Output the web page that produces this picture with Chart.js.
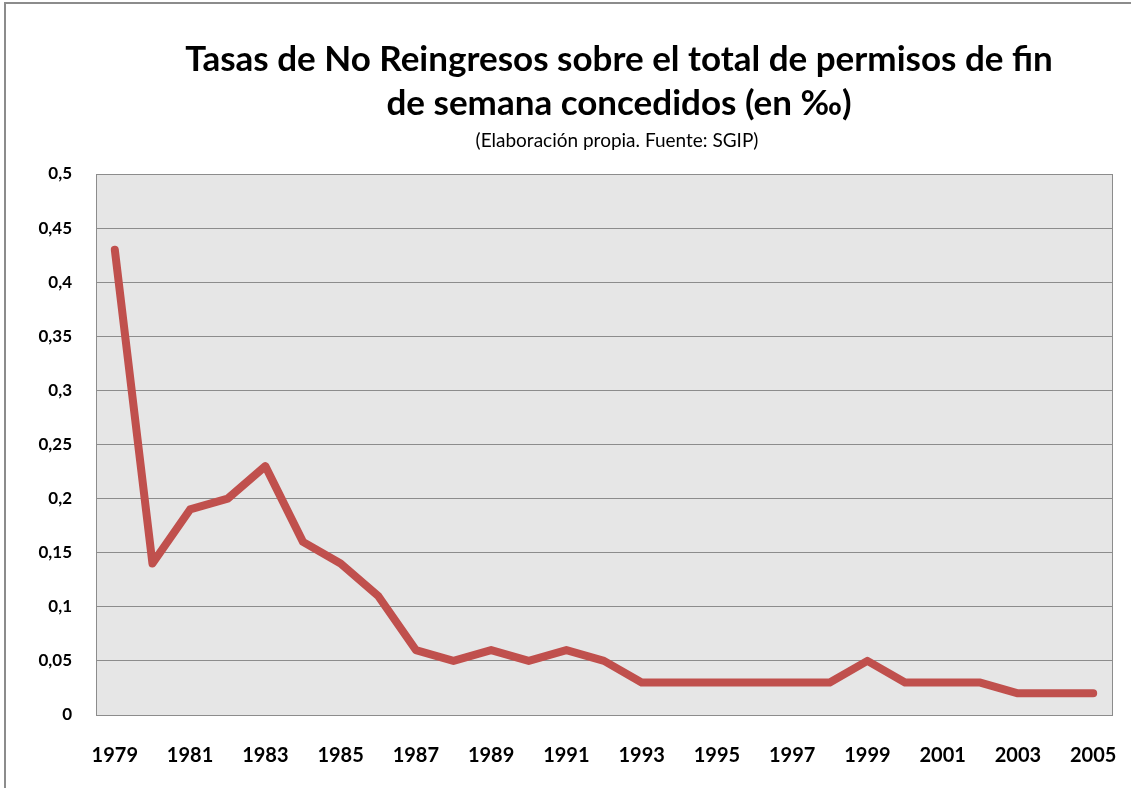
<!DOCTYPE html>
<html>
<head>
<meta charset="utf-8">
<script src="https://cdn.jsdelivr.net/npm/chart.js@4/dist/chart.umd.min.js"></script>
<style>
    html, body { margin: 0; padding: 0; background: #fff; }
    #chartContainer { position: absolute; left: 0; top: 0; }
</style>
</head>
<body>
<canvas id="chartContainer" width="1131" height="788"></canvas>
<script>
// Chart data
const years = ['1979', '1980', '1981', '1982', '1983', '1984', '1985', '1986', '1987', '1988',
    '1989', '1990', '1991', '1992', '1993', '1994', '1995', '1996', '1997', '1998',
    '1999', '2000', '2001', '2002', '2003', '2004', '2005'];
const rates = [0.43, 0.14, 0.19, 0.20, 0.23, 0.16, 0.14, 0.11, 0.06, 0.05,
    0.06, 0.05, 0.06, 0.05, 0.03, 0.03, 0.03, 0.03, 0.03, 0.03,
    0.05, 0.03, 0.03, 0.03, 0.02, 0.02, 0.02];
const titleLines = ['Tasas de No Reingresos sobre el total de permisos de fin', 'de semana concedidos (en ‰)'];
const subtitleText = '(Elaboración propia. Fuente: SGIP)';

const FONT = 'Lato, "Open Sans", sans-serif';

// Plot background, borders and header text
const frame = {
    id: 'frame',
    beforeDraw(chart) {
        const ctx = chart.ctx;
        const a = chart.chartArea;
        ctx.save();
        ctx.fillStyle = '#fff';
        ctx.fillRect(0, 0, chart.width, chart.height);
        ctx.fillStyle = '#e6e6e6';
        ctx.fillRect(a.left, a.top, a.right - a.left, a.bottom - a.top);
        // outer chart border (only left/top visible in the original)
        ctx.strokeStyle = '#8c8c8c';
        ctx.lineWidth = 2;
        ctx.beginPath();
        ctx.moveTo(5, chart.height + 5);
        ctx.lineTo(5, 3);
        ctx.lineTo(chart.width + 5, 3);
        ctx.stroke();
        ctx.restore();
    },
    afterDatasetsDraw(chart) {
        const ctx = chart.ctx;
        const a = chart.chartArea;
        ctx.save();
        ctx.strokeStyle = '#8c8c8c';
        ctx.lineWidth = 1;
        ctx.strokeRect(Math.round(a.left) + 0.5, Math.round(a.top) + 0.5,
            Math.round(a.right - a.left), Math.round(a.bottom - a.top));
        ctx.restore();
    },
    afterDraw(chart) {
        const ctx = chart.ctx;
        ctx.save();
        ctx.fillStyle = '#000';
        ctx.textAlign = 'center';
        ctx.textBaseline = 'middle';
        ctx.font = 'bold 35px ' + FONT;
        ctx.fillText(titleLines[0], 619, 60);
        ctx.fillText(titleLines[1], 619, 104);
        ctx.font = '19px ' + FONT;
        ctx.fillText(subtitleText, 617, 141);
        ctx.restore();
    }
};

document.addEventListener('DOMContentLoaded', function () {
    const ctx = document.getElementById('chartContainer').getContext('2d');
    new Chart(ctx, {
        type: 'line',
        data: {
            labels: years,
            datasets: [{
                data: rates,
                borderColor: '#c0504d',
                borderWidth: 8,
                borderCapStyle: 'round',
                borderJoinStyle: 'round',
                pointRadius: 0,
                tension: 0,
                fill: false
            }]
        },
        options: {
            responsive: false,
            animation: false,
            layout: {
                padding: { left: 0, right: 19, top: 174, bottom: 0 }
            },
            scales: {
                x: {
                    offset: true,
                    grid: { display: false, drawTicks: false },
                    border: { display: false },
                    ticks: {
                        autoSkip: false,
                        maxRotation: 0,
                        padding: 29,
                        color: '#000',
                        font: { family: FONT, size: 20, weight: 'bold' },
                        callback: function (value, index) {
                            return index % 2 === 0 ? this.getLabelForValue(value) : '';
                        }
                    },
                    afterFit(scale) {
                        scale.height = 73;
                        scale.paddingLeft = 0;
                        scale.paddingRight = 0;
                    }
                },
                y: {
                    min: 0,
                    max: 0.5,
                    grid: { color: '#8c8c8c', lineWidth: 1, drawTicks: false },
                    border: { display: false },
                    ticks: {
                        stepSize: 0.05,
                        padding: 24,
                        color: '#000',
                        font: { family: FONT, size: 17, weight: 'bold' },
                        callback: function (value) {
                            return String(Math.round(value * 100) / 100).replace('.', ',');
                        }
                    },
                    afterFit(scale) {
                        scale.width = 96;
                        scale.paddingTop = 0;
                        scale.paddingBottom = 0;
                    }
                }
            },
            plugins: {
                legend: { display: false },
                title: { display: false },
                tooltip: { enabled: false }
            }
        },
        plugins: [frame]
    });
});
</script>
</body>
</html>
